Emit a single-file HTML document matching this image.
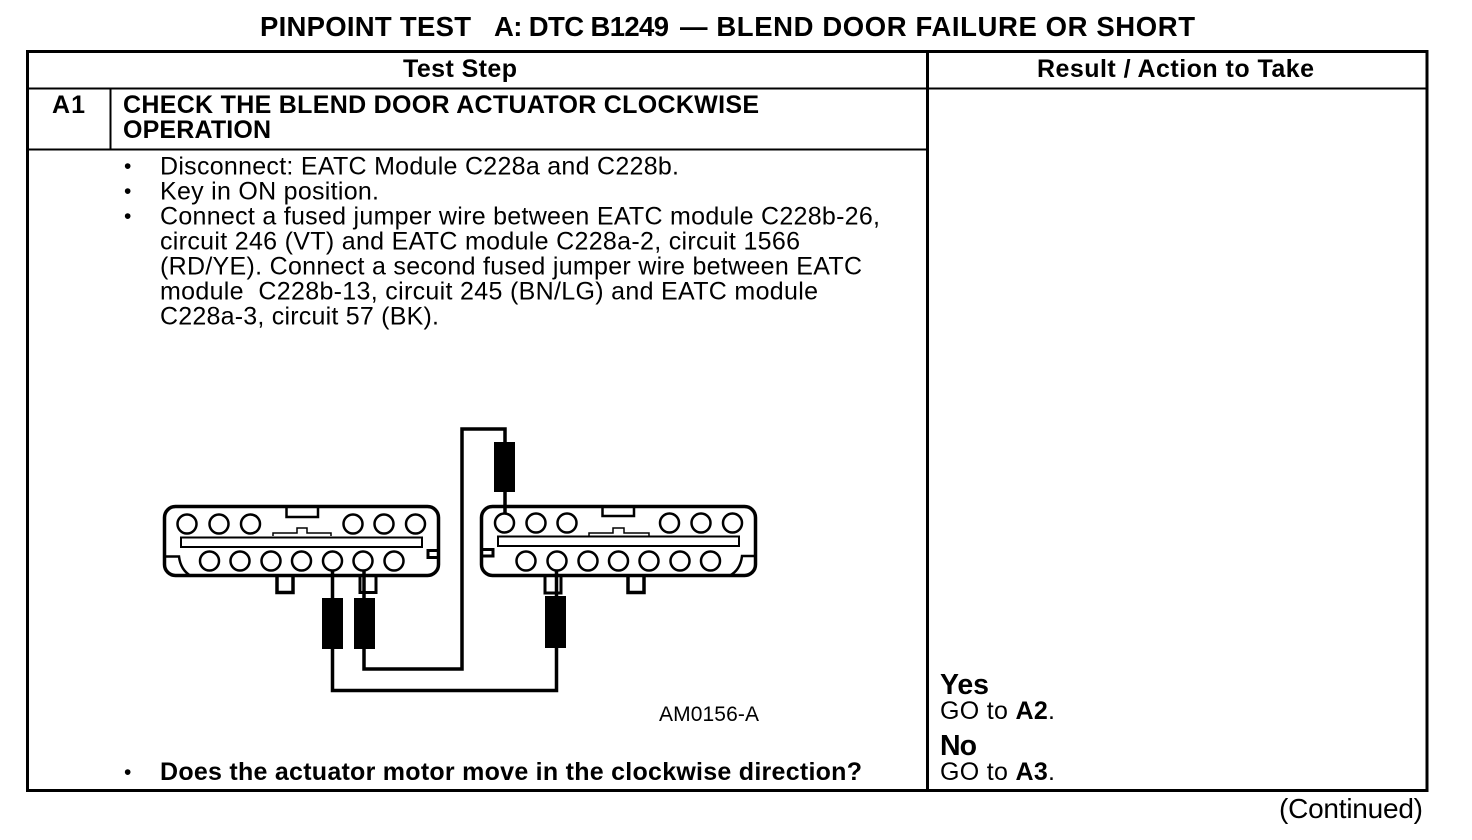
<!DOCTYPE html>
<html><head><meta charset="utf-8"><style>
html,body{margin:0;padding:0;background:#fff}
svg{display:block}
text{font-family:"Liberation Sans",sans-serif;fill:#000;white-space:pre}
.b{font-weight:bold}
.n{font-size:25px}
.h{font-size:25px;font-weight:bold}
</style></head><body>
<svg width="1472" height="840" viewBox="0 0 1472 840" xmlns="http://www.w3.org/2000/svg">
<rect width="1472" height="840" fill="#fff"/>
<text x="260" y="36" class="b" font-size="27.500" textLength="211">PINPOINT TEST</text>
<text x="494" y="36" class="b" font-size="27.500" textLength="175">A: DTC B1249</text>
<text x="680" y="36" class="b" font-size="27.500" textLength="515">— BLEND DOOR FAILURE OR SHORT</text>
<g fill="none" stroke="#000">
<rect x="27.500" y="51.500" width="1399.500" height="739" stroke-width="3"/>
<path d="M927.500 51V791" stroke-width="3"/>
<path d="M28 88.500H1427M28 149.500H927M110.500 88V149" stroke-width="2"/>
</g>
<text x="403" y="77" class="h" textLength="114">Test Step</text>
<text x="1037" y="77" class="h" textLength="277">Result / Action to Take</text>
<text x="52" y="113" class="h" textLength="33">A1</text>
<text x="123" y="113" class="h" textLength="636">CHECK THE BLEND DOOR ACTUATOR CLOCKWISE</text>
<text x="123" y="138" class="h" textLength="148">OPERATION</text>
<text x="124" y="173" font-size="21">•</text>
<text x="124" y="198" font-size="21">•</text>
<text x="124" y="223" font-size="21">•</text>
<text x="124" y="779" font-size="21">•</text>
<text x="160" y="174.500" class="n" textLength="519">Disconnect: EATC Module C228a and C228b.</text>
<text x="160" y="199.500" class="n" textLength="219">Key in ON position.</text>
<text x="160" y="224.500" class="n" textLength="720">Connect a fused jumper wire between EATC module C228b-26,</text>
<text x="160" y="249.500" class="n" textLength="640">circuit 246 (VT) and EATC module C228a-2, circuit 1566</text>
<text x="160" y="274.500" class="n" textLength="702">(RD/YE). Connect a second fused jumper wire between EATC</text>
<text x="160" y="299.500" class="n" textLength="658">module  C228b-13, circuit 245 (BN/LG) and EATC module</text>
<text x="160" y="324.500" class="n" textLength="279">C228a-3, circuit 57 (BK).</text>
<text x="160" y="780" class="h" textLength="702">Does the actuator motor move in the clockwise direction?</text>
<text x="659" y="721" font-size="21" textLength="100">AM0156-A</text>
<text x="940" y="694" class="b" font-size="28.500" textLength="49">Yes</text>
<text x="940" y="719" font-size="25" textLength="115">GO to <tspan class="b">A2</tspan>.</text>
<text x="940" y="755" class="b" font-size="28.500" textLength="37">No</text>
<text x="940" y="780" font-size="25" textLength="115">GO to <tspan class="b">A3</tspan>.</text>
<text x="1279" y="818" font-size="28" textLength="144">(Continued)</text>

<!-- left connector -->
<g fill="none" stroke="#000" stroke-width="3">
<rect x="164.500" y="506.500" width="274" height="69" rx="11" stroke-width="3.500"/>
<path d="M273 536V533H297V528H307V533H331V536" stroke-width="1.500"/>
<path d="M286.500 506V517H318V506" stroke-width="2.500"/>
<rect x="181" y="537.500" width="241" height="9.500" stroke-width="2"/>
<path d="M164 556.500H179C180 565 184 572 191 576" stroke-width="2.500"/>
<path d="M439 550.500H428V557.500H439" stroke-width="3"/>
<path d="M277 577V592.500H293V577" stroke-width="3.500"/>
<path d="M360 577V592.500H376V577" stroke-width="3"/>
</g>
<g fill="#fff" stroke="#000" stroke-width="2.500">
<circle cx="187" cy="524" r="9.500"/><circle cx="219" cy="524" r="9.500"/><circle cx="250.500" cy="524" r="9.500"/>
<circle cx="353" cy="524" r="9.500"/><circle cx="384" cy="524" r="9.500"/><circle cx="415.500" cy="524" r="9.500"/>
<circle cx="209.500" cy="561" r="9.500"/><circle cx="240" cy="561" r="9.500"/><circle cx="271" cy="561" r="9.500"/>
<circle cx="301.500" cy="561" r="9.500"/><circle cx="332.500" cy="561" r="9.500"/><circle cx="363" cy="561" r="9.500"/><circle cx="394" cy="561" r="9.500"/>
</g>
<!-- right connector -->
<g fill="none" stroke="#000" stroke-width="3">
<rect x="481.500" y="506.500" width="274" height="69" rx="11" stroke-width="3.500"/>
<path d="M589 536V533H613V528H624V533H649V536" stroke-width="1.500"/>
<path d="M602.500 506V516H634V506" stroke-width="2.500"/>
<rect x="498" y="536.500" width="241" height="9.500" stroke-width="2"/>
<path d="M756 556H742C741 565 737 572 729 576" stroke-width="2.500"/>
<path d="M481 549.500H493V556H481" stroke-width="3"/>
<path d="M545 577V593H561V577" stroke-width="3"/>
<path d="M628 577V592.500H644V577" stroke-width="3.500"/>
</g>
<g fill="#fff" stroke="#000" stroke-width="2.500">
<circle cx="504.500" cy="523" r="9.500"/><circle cx="536" cy="523" r="9.500"/><circle cx="567" cy="523" r="9.500"/>
<circle cx="669.500" cy="523" r="9.500"/><circle cx="701" cy="523" r="9.500"/><circle cx="732.500" cy="523" r="9.500"/>
<circle cx="526" cy="561" r="9.500"/><circle cx="557" cy="561" r="9.500"/><circle cx="588" cy="561" r="9.500"/>
<circle cx="618.500" cy="561" r="9.500"/><circle cx="649" cy="561" r="9.500"/><circle cx="680" cy="561" r="9.500"/><circle cx="710.500" cy="561" r="9.500"/>
</g>
<!-- wires -->
<g fill="none" stroke="#000" stroke-width="3.500">
<path d="M332.500 571V690.500H556.500V570"/>
<path d="M364 571V669H462V429H505V514"/>
</g>
<g fill="#000">
<rect x="322" y="598" width="21" height="51"/>
<rect x="354" y="598" width="21" height="51"/>
<rect x="545" y="596" width="21" height="52"/>
<rect x="494" y="442" width="21" height="50"/>
</g>
</svg>
</body></html>
